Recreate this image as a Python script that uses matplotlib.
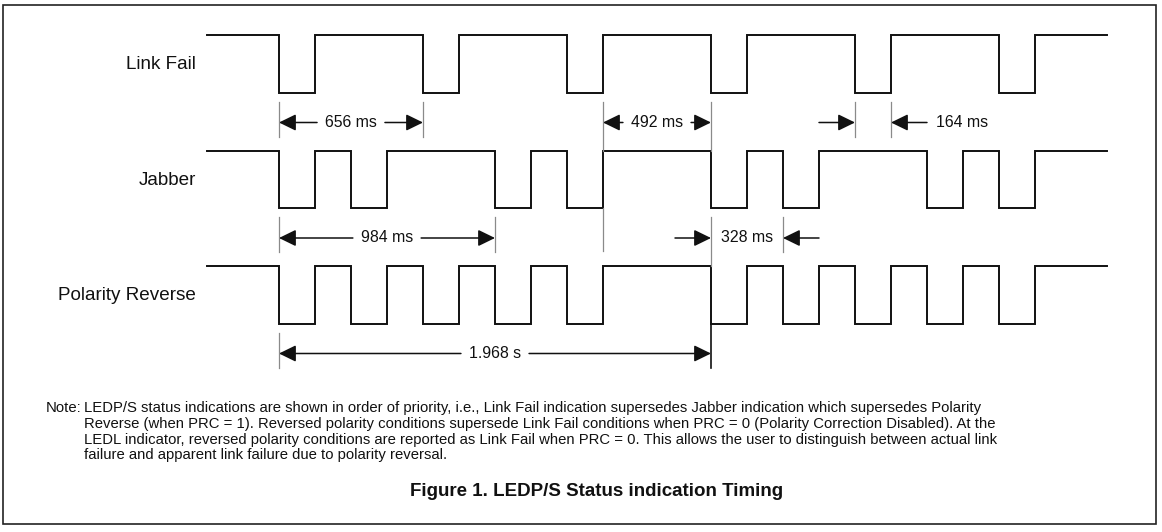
import matplotlib
matplotlib.use('Agg')
import matplotlib.pyplot as plt
from matplotlib import transforms
from matplotlib.patches import Rectangle

plt.rcParams['font.family'] = ['Liberation Sans', 'DejaVu Sans']

# ---------------- data (times in ms) ----------------
signal_names = ['Link Fail', 'Jabber', 'Polarity Reverse']

link_fail_edges = [-328, 0, 164, 656, 820, 1312, 1476, 1968, 2132, 2624, 2788, 3280, 3444, 3772]
link_fail_levels = [1, 0, 1, 0, 1, 0, 1, 0, 1, 0, 1, 0, 1]

jabber_edges = [-328, 0, 164, 328, 492, 984, 1148, 1312, 1476, 1968, 2132, 2296, 2460,
                2952, 3116, 3280, 3444, 3772]
jabber_levels = [1, 0, 1, 0, 1, 0, 1, 0, 1, 0, 1, 0, 1, 0, 1, 0, 1]

polarity_edges = [-328, 0, 164, 328, 492, 656, 820, 984, 1148, 1312, 1476, 1968, 2132,
                  2296, 2460, 2624, 2788, 2952, 3116, 3280, 3444, 3772]
polarity_levels = [1, 0, 1, 0, 1, 0, 1, 0, 1, 0, 1, 0, 1, 0, 1, 0, 1, 0, 1, 0, 1]

dim_signal = [0, 0, 0, 1, 1, 2]
dim_start = [0, 1476, 2624, 0, 1968, 0]
dim_end = [656, 1968, 2788, 984, 2296, 1968]
dim_labels = ['656 ms', '492 ms', '164 ms', '984 ms', '328 ms', '1.968 s']
dim_outside = [False, False, True, False, True, False]

note_head = 'Note:'
note_lines = [
    'LEDP/S status indications are shown in order of priority, i.e., Link Fail indication supersedes Jabber indication which supersedes Polarity',
    'Reverse (when PRC = 1). Reversed polarity conditions supersede Link Fail conditions when PRC = 0 (Polarity Correction Disabled). At the',
    'LEDL indicator, reversed polarity conditions are reported as Link Fail when PRC = 0. This allows the user to distinguish between actual link',
    'failure and apparent link failure due to polarity reversal.',
]
title = 'Figure 1. LEDP/S Status indication Timing'

# ---------------- layout ----------------
W, H = 1162, 532
fig = plt.figure(figsize=(W / 100, H / 100), dpi=100)
ax = fig.add_axes([0, 0, 1, 1])
ms_per_px = 82 / 18
x_zero_px = 279
ax.set_xlim(-x_zero_px * ms_per_px, (W - x_zero_px) * ms_per_px)
ax.set_ylim(H, 0)
ax.axis('off')
px = transforms.Affine2D().scale(1 / W, -1 / H).translate(0, 1) + fig.transFigure

row_top = [35, 150.5, 266]
amp = 57.5
dim_off = 30
wave_lw = 1.4
ink = '#111111'
ext_col = '#8a8a8a'

signals = [(link_fail_edges, link_fail_levels), (jabber_edges, jabber_levels),
           (polarity_edges, polarity_levels)]

for i, (edges, levels) in enumerate(signals):
    ys = [row_top[i] + (1 - lv) * amp for lv in levels]
    ax.step(edges, ys + [ys[-1]], where='post', color=ink, lw=wave_lw,
            solid_joinstyle='miter')
    ax.text(196, row_top[i] + amp / 2 + 1, signal_names[i], transform=px,
            ha='right', va='center', fontsize=13.6, color=ink)

# extension lines
def ext(t, y0, y1, col=ext_col, lw=0.9):
    ax.plot([t, t], [y0, y1], color=col, lw=lw)

joined = {(0, 1476), (0, 1968), (1, 1968)}
for k in range(len(dim_labels)):
    r = dim_signal[k]
    low = row_top[r] + amp
    for t in (dim_start[k], dim_end[k]):
        if (r, t) in joined:
            ext(t, low + 9, row_top[r + 1])
        else:
            col = ink if r == 2 and t == dim_end[k] else ext_col
            ext(t, low + 9 if col == ext_col else low, low + 44, col=col,
                lw=0.9 if col == ext_col else 1.2)
# stray extension in the Jabber row
ext(1476, row_top[1] + amp, row_top[1] + amp + 43)

fig.canvas.draw()
renderer = fig.canvas.get_renderer()

def arrow(tail, tip, y):
    ax.annotate('', xy=(tip, y), xytext=(tail, y),
                arrowprops=dict(arrowstyle='-|>,head_length=0.45,head_width=0.22',
                                mutation_scale=23, lw=1.1, color=ink,
                                shrinkA=0, shrinkB=0))

for k in range(len(dim_labels)):
    r = dim_signal[k]
    y = row_top[r] + amp + dim_off
    a, b = dim_start[k], dim_end[k]
    if not dim_outside[k]:
        mid = (a + b) / 2
        t = ax.text(mid, y, dim_labels[k], ha='center', va='center', fontsize=11.4, color=ink)
        bb = t.get_window_extent(renderer)
        half = (bb.width / 2 + 8) * ms_per_px
        arrow(mid - half, a, y)
        arrow(mid + half, b, y)
    else:
        L = 36 * ms_per_px
        arrow(a - L, a, y)
        arrow(b + L, b, y)
        if k == 2:
            ax.text(b + 45 * ms_per_px, y, dim_labels[k], ha='left', va='center',
                    fontsize=11.4, color=ink)
        else:
            ax.text((a + b) / 2, y, dim_labels[k], ha='center', va='center',
                    fontsize=11.4, color=ink)

# note
note_fs = 10.7
ax.text(46, 408, note_head, transform=px, ha='left', va='center', fontsize=note_fs, color=ink)
for j, line in enumerate(note_lines):
    ax.text(84, 408 + j * 15.8, line, transform=px, ha='left', va='center',
            fontsize=note_fs, color=ink)

ax.text(597, 492, title, transform=px, ha='center', va='center', fontsize=13.5,
        fontweight='bold', color=ink)

# frame
fig.patches.append(Rectangle((3, 5), 1153, 519, transform=px, fill=False,
                             edgecolor='#222222', lw=1.2))

fig.savefig('out.png', dpi=100)
